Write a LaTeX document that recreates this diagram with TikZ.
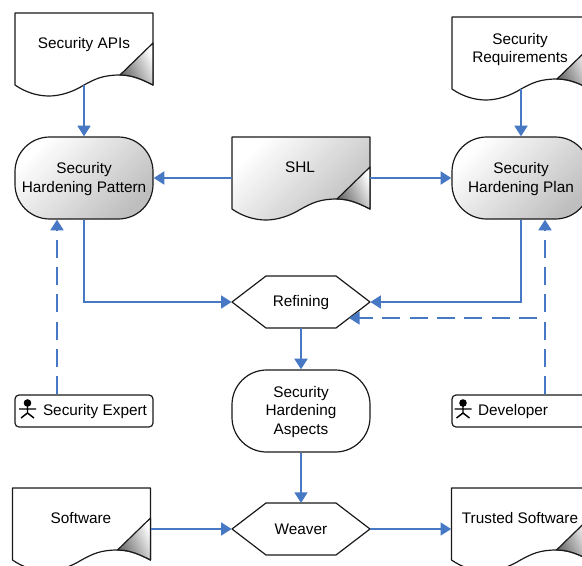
\documentclass[tikz,border=0pt]{standalone}
\usepackage{fontspec}
\setmainfont{Liberation Sans}
\usetikzlibrary{arrows.meta}
\definecolor{flow}{HTML}{4678C4}
\definecolor{edge}{HTML}{1A1A1A}
\definecolor{shadeend}{HTML}{BEBEBE}
\tikzset{
  every node/.style={font=\fontsize{11.5}{14}\selectfont,text=black,align=center,inner sep=0pt},
  outline/.style={draw=edge,line width=0.9pt,line join=round},
  sheen/.style={left color=white,right color=shadeend,shading angle=45},
  plainfill/.style={fill=white},
  foldfill/.style={left color=gray!80!black,right color=white,shading angle=115},
  anchorbox/.style={minimum width=103.5pt,minimum height=#1,draw=none},
  procbox/.style={outline,rounded corners=26pt,minimum width=103.5pt,minimum height=61.5pt},
  actorbox/.style={outline,rounded corners=3pt,fill=white,minimum width=103.5pt,minimum height=24pt},
  flowline/.style={draw=flow,line width=2.1pt,-{Triangle[length=8pt,width=9.5pt]}},
  flowdash/.style={flowline,dash pattern=on 13.5pt off 7pt},
}
% name, x, y (top left), fill style
\newcommand{\docshape}[4]{%
  \begin{scope}[shift={(#2,#3)}]
    \node[anchorbox=54pt] (#1) at (69,36) {};
    \path[outline,#4] (0,0) -- (138,0) -- (138,72)
      .. controls (128,67) and (118,62) .. (105,62)
      .. controls (88,62) and (80,66) .. (69,72)
      .. controls (58,79) and (45,83) .. (34,83)
      .. controls (22,83) and (10,79) .. (0,72) -- cycle;
    \path[outline,foldfill] (105,62) -- (138,30) -- (138,72)
      .. controls (128,67) and (118,62) .. (105,62) -- cycle;
  \end{scope}}
% name, centre x, centre y
\newcommand{\hexshape}[3]{%
  \begin{scope}[shift={(#2,#3)}]
    \node[minimum width=103.5pt,minimum height=39pt] (#1) at (0,0) {};
    \path[outline,fill=white] (-69,0) -- (-35,-26) -- (35,-26) -- (69,0) -- (35,26) -- (-35,26) -- cycle;
  \end{scope}}
% x, y of icon centre
\newcommand{\person}[2]{%
  \begin{scope}[shift={(#1,#2)}]
    \fill[black] (0,-7) circle (3.8);
    \draw[black,line width=1.1pt] (0,-4) -- (0,3) (-8.5,-1) -- (8.5,-1) (-6.5,8) -- (0,3) -- (6.5,8);
  \end{scope}}
\begin{document}
\begin{tikzpicture}[x=0.75pt,y=-0.75pt]
\useasboundingbox (0,0) rectangle (582,565);
\clip (0,0) rectangle (582,565);

\docshape{apis}{15}{13}{plainfill}
\node (apisT) at (84,45) {Security APIs};
\docshape{reqs}{452}{17}{plainfill}
\node (reqsT) at (520,49.5) {Security\\Requirements};
\docshape{shl}{232}{137}{sheen}
\node (shlT) at (300,167) {SHL};
\docshape{soft}{12.5}{488}{plainfill}
\node (softT) at (81,518) {Software};
\docshape{trust}{451.5}{488}{plainfill}
\node (trustT) at (520,518) {Trusted Software};

\node[procbox,sheen] (pat) at (84,178) {};
\node (patT) at (84,179) {Security\\Hardening Pattern};
\node[procbox,sheen] (plan) at (521,178) {};
\node (planT) at (521,179) {Security\\Hardening Plan};
\node[procbox,fill=white] (asp) at (301,411) {};
\node (aspT) at (301,412) {Security\\Hardening\\Aspects};

\hexshape{ref}{301}{302}
\node (refT) at (301,303) {Refining};
\hexshape{weav}{301}{529}
\node (weavT) at (301,529) {Weaver};

\node[actorbox] (exp) at (84,411) {};
\node (expT) at (95,412) {Security Expert};
\person{27.5}{410}
\node[actorbox] (dev) at (521,411) {};
\node (devT) at (513,412) {Developer};
\person{463}{410}

\coordinate (refDash) at (349,318);
\coordinate (devBranch) at (537,318);

\draw[flowline] (apis.south) -- (pat.north);
\draw[flowline] (reqs.south) -- (plan.north);
\draw[flowline] (pat.east -| shl.west) -- (pat.east);
\draw[flowline] (plan.west -| shl.east) -- (plan.west);
\draw[flowline] (pat.south) |- (ref.west);
\draw[flowline] (plan.south) |- (ref.east);
\draw[flowline] (ref.south |- 301,328) -- (asp.north);
\draw[flowline] (asp.south) -- (weav.north |- 301,503);
\draw[flowline] (soft.east |- weav.west) -- (weav.west);
\draw[flowline] (weav.east) -- (trust.west |- weav.east);
\draw[flowdash] (exp.north -| 57,0) -- (pat.south -| 57,0);
\draw[flowdash] (dev.north -| 545,0) -- (plan.south -| 545,0);
\draw[flowdash] (devBranch) -- (refDash);
\end{tikzpicture}
\end{document}
